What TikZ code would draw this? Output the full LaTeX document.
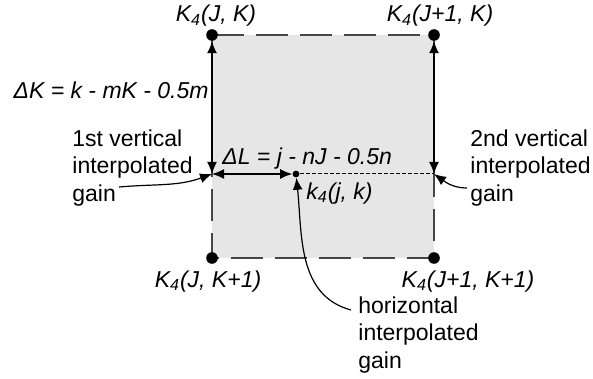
\documentclass[tikz,border=0pt]{standalone}
\usepackage{fontspec}
\setmainfont{Liberation Sans}
\usetikzlibrary{positioning, arrows.meta}
\begin{document}
\begin{tikzpicture}[>={Latex[length=6pt, width=5pt]}, x=0.5pt, y=-0.5pt,
    font=\fontsize{11.5}{13.75}\selectfont,
    corner/.style={circle, fill=black, inner sep=0pt, minimum size=5.8pt},
    gaindot/.style={circle, fill=black, inner sep=0pt, minimum size=3.4pt},
    lbl/.style={inner sep=1pt, font=\fontsize{11.5}{13.75}\selectfont\itshape},
    note/.style={align=left, inner sep=0pt}]
    % colours of the cell
    \definecolor{cellgray}{RGB}{230, 230, 230}
    \definecolor{edgegray}{RGB}{70, 70, 70}
    \useasboundingbox (0,0) rectangle (593,379);

    % 1. The grid cell
    \fill[cellgray] (212,35) rectangle (434,258);
    \draw[edgegray, line width=0.75pt, dash pattern=on 16pt off 6pt]
        (212,35) -- (434,35) -- (434,258) -- (212,258) -- cycle;

    % 2. Corner gains
    \node[corner] (tl) at (212,35) {};
    \node[corner] (tr) at (434,35) {};
    \node[corner] (bl) at (212,258) {};
    \node[corner] (br) at (434,258) {};
    \node[lbl, above=0pt of tl, xshift=2pt] (ltl) {K\textsubscript{4}(J, K)};
    \node[lbl, above=0pt of tr, xshift=3pt] (ltr) {K\textsubscript{4}(J+1, K)};
    \node[lbl, below=2pt of bl, xshift=-2pt] (lbl1) {K\textsubscript{4}(J, K+1)};
    \node[lbl, below=2pt of br, xshift=17pt] (lbr) {K\textsubscript{4}(J+1, K+1)};

    % 3. Interpolation points and distances
    \coordinate (ml) at (212,174);
    \coordinate (mr) at (434,174);
    \node[gaindot] (p) at (296,174) {};
    \draw[<->, line width=0.75pt] (tl) -- (ml);
    \draw[<->, line width=0.75pt] (tr) -- (mr);
    \draw[<->, line width=0.75pt] (ml) -- (p);
    \draw[line width=0.5pt, dash pattern=on 2pt off 1pt] (p) -- (mr);
    \node[lbl, anchor=east] (dk) at (211,90) {ΔK = k - mK - 0.5m};
    \node[lbl, anchor=base west] (dl) at (220,165) {ΔL = j - nJ - 0.5n};
    \node[lbl, anchor=base west] (kp) at (304,199) {k\textsubscript{4}(j, k)};

    % 4. Notes with their pointers
    \node[note, anchor=north west] (v1) at (72,129) {1st vertical\\interpolated\\gain};
    \node[note, anchor=north west] (v2) at (470,129) {2nd vertical\\interpolated\\gain};
    \node[note, anchor=north west] (hn) at (358,296) {horizontal\\interpolated\\gain};
    \coordinate (g1) at (119,187);
    \coordinate (g2) at (467,188);
    \coordinate (g3) at (351,310);
    \draw[->, line width=0.6pt] (g1) to[out=5, in=200] (ml);
    \draw[->, line width=0.6pt] (g2) to[out=180, in=-35] (mr);
    \draw[->, line width=0.6pt] (g3) to[out=165, in=-84] (p);
\end{tikzpicture}
\end{document}
